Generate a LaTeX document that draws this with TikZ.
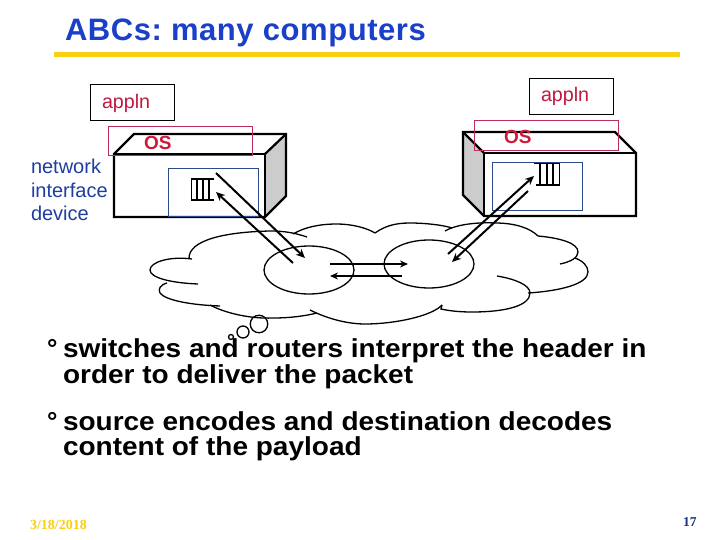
\documentclass[tikz,border=0pt]{standalone}
\usepackage{fontspec}
\setmainfont{Liberation Sans}
\newfontfamily\timesf{Liberation Serif}
\newfontfamily\bodyf[FakeStretch=1.077]{Liberation Sans}
\newfontfamily\titlef[LetterSpace=1.8]{Liberation Sans}
\usetikzlibrary{arrows.meta,shapes.geometric}
\definecolor{titleblue}{HTML}{1A3FC8}
\definecolor{textblue}{HTML}{1F3F9F}
\definecolor{crim}{HTML}{C0193F}
\definecolor{oschar}{HTML}{D0183A}
\definecolor{osbox}{HTML}{B8305A}
\definecolor{nicbox}{HTML}{2A4A8A}
\definecolor{rule}{HTML}{F9CF14}
\definecolor{navy}{HTML}{1A2F80}
\definecolor{sidegray}{HTML}{CCCCCC}
\tikzset{
  txt/.style={inner sep=0pt,outer sep=0pt,anchor=base west},
  apptxt/.style={txt,text=crim,font=\fontsize{19.7}{19.7}\selectfont},
  ostxt/.style={txt,text=oschar,font=\fontsize{19}{19}\selectfont\bfseries},
  nettxt/.style={txt,text=textblue,font=\fontsize{20}{20}\selectfont},
  bodytxt/.style={txt,text=black,font=\bodyf\fontsize{26}{26}\selectfont\bfseries},
  appbox/.style={draw=black,line width=1pt},
  osrect/.style={draw=osbox,line width=1pt},
  nicrect/.style={draw=nicbox,line width=1pt},
  hw/.style={draw=black,line width=2.2pt,line join=miter},
  queue/.style={draw=black,line width=1.6pt},
  cloud/.style={draw=black,line width=1.3pt},
  link/.style={draw=black,line width=2pt,-{Stealth[length=9pt,width=8pt]}},
  linkthin/.style={draw=black,line width=1.6pt,-{Stealth[length=8pt,width=7pt]}}
}
\begin{document}
\frenchspacing
\begin{tikzpicture}[x=1pt,y=-1pt]
\useasboundingbox (0,0) rectangle (720,540);
\fill[white] (0,0) rectangle (720,540);
% title
\node[txt,text=titleblue,font=\titlef\fontsize{31}{31}\selectfont\bfseries] (title) at (65,41) {ABCs: many computers};
\fill[rule] (54,52) rectangle (680,57);
% left computer
\fill[sidegray] (265,154) -- (286,134) -- (286,196) -- (265,217) -- cycle;
\draw[hw] (114,217) -- (114,154) -- (134,134) -- (286,134) -- (286,196) -- (265,217) -- cycle;
\draw[hw] (114,154) -- (265,154) -- (265,217);
\draw[hw] (265,154) -- (286,134);
\draw[appbox] (90,84.5) rectangle (174.5,120.5);
\node[apptxt] (app1) at (102,109) {appln};
\draw[osrect] (108.5,126.5) rectangle (252.5,156);
\node[ostxt] (os1) at (144,150) {OS};
\draw[nicrect] (168.5,168.5) rectangle (258.5,216.5);
\draw[queue] (214,179) -- (191.5,179) -- (191.5,200) -- (214,200);
\draw[queue] (197,179) -- (197,200) (203,179) -- (203,200) (209,179) -- (209,200);
\node[nettxt] (net1) at (31,174) {network};
\node[nettxt] (net2) at (31,197) {interface};
\node[nettxt] (net3) at (31,221) {device};
% right computer
\fill[sidegray] (463,132) -- (484,153) -- (484,216) -- (463,195) -- cycle;
\draw[hw] (484,216) -- (636,216) -- (636,153) -- (615,132) -- (463,132) -- (463,195) -- cycle;
\draw[hw] (484,216) -- (484,153) -- (636,153);
\draw[hw] (463,132) -- (484,153);
\draw[appbox] (529.5,78.5) rectangle (613.5,114.5);
\node[apptxt] (app2) at (541,102) {appln};
\draw[osrect] (474.5,120.5) rectangle (618.5,150.5);
\node[ostxt] (os2) at (504,144) {OS};
\draw[nicrect] (492.5,162.5) rectangle (582.5,210.5);
\draw[queue] (534,163.5) -- (559.5,163.5) -- (559.5,185) -- (536,185);
\draw[queue] (540,163.5) -- (540,185) (547,163.5) -- (547,185) (553,163.5) -- (553,185);
% cloud
\draw[cloud] (192,259) .. controls (170,256) and (150,262) .. (150,270) .. controls (150,278) and (172,283) .. (198,284);
\draw[cloud] (167,283) .. controls (160,285) and (158,289) .. (160,293) .. controls (165,300) and (190,305) .. (220,306);
\draw[cloud] (210,305) .. controls (225,313) and (250,319) .. (273,318) .. controls (290,318) and (305,316) .. (317,313);
\draw[cloud] (310,310) .. controls (330,320) and (350,324) .. (365,324) .. controls (395,324) and (432,316) .. (442,305);
\draw[cloud] (442,305) -- (441,309) .. controls (450,311) and (460,312) .. (472,312) .. controls (505,312) and (530,306) .. (530,293) .. controls (530,285) and (515,279) .. (497,276);
\draw[cloud] (528,293) .. controls (560,291) and (588,284) .. (588,272) .. controls (588,266) and (583,261) .. (575,258);
\draw[cloud] (560,264) .. controls (570,262) and (578,258) .. (578,252) .. controls (578,243) and (560,238) .. (538,236);
\draw[cloud] (538,236) .. controls (530,228) and (515,223) .. (495,223) .. controls (475,222) and (455,225) .. (445,231);
\draw[cloud] (375,233) .. controls (385,226) and (395,223) .. (410,223) .. controls (425,223) and (443,225) .. (452,228);
\draw[cloud] (293,234) .. controls (305,227) and (320,224) .. (337,224) .. controls (352,224) and (367,228) .. (375,233);
\draw[cloud] (307,237) .. controls (295,233) and (285,231) .. (270,231) .. controls (225,232) and (188,240) .. (189,259);
\node[cloud,circle,minimum size=17.5pt,inner sep=0pt] (bub1) at (259,324) {};
\node[cloud,circle,minimum size=12pt,inner sep=0pt] (bub2) at (243,332) {};
\node[cloud,circle,minimum size=5pt,inner sep=0pt] (bub3) at (231,337) {};
% switches
\node[cloud,ellipse,minimum width=90pt,minimum height=48pt,inner sep=0pt] (sw1) at (309,270) {};
\node[cloud,ellipse,minimum width=90pt,minimum height=48pt,inner sep=0pt] (sw2) at (429,264) {};
% links
\coordinate (l1a) at (216,173); \coordinate (l1b) at (305,258);
\coordinate (l2a) at (293,263); \coordinate (l2b) at (216,192);
\coordinate (r1a) at (448,254); \coordinate (r1b) at (534,176);
\coordinate (r2a) at (528,191); \coordinate (r2b) at (452,262);
\coordinate (m1a) at (330,264); \coordinate (m1b) at (408,264);
\coordinate (m2a) at (402,276); \coordinate (m2b) at (330,276);
\draw[link] (l1a) -- (l1b);
\draw[link] (l2a) -- (l2b);
\draw[link] (r1a) -- (r1b);
\draw[link] (r2a) -- (r2b);
\draw[linkthin] (m1a) -- (m1b);
\draw[linkthin] (m2a) -- (m2b);
% body
\node[txt,font=\fontsize{26}{26}\selectfont\bfseries] (b1) at (47,357) {°};
\node[bodytxt] (t1) at (63,357) {switches and routers interpret the header in};
\node[bodytxt] (t2) at (63,383) {order to deliver the packet};
\node[txt,font=\fontsize{26}{26}\selectfont\bfseries] (b2) at (47,430) {°};
\node[bodytxt] (t3) at (63,430) {source encodes and destination decodes};
\node[bodytxt] (t4) at (63,455) {content of the payload};
% footer
\node[txt,text=rule,font=\timesf\fontsize{14}{14}\selectfont\bfseries] (date) at (30,529) {3/18/2018};
\node[txt,text=navy,font=\timesf\fontsize{13.5}{13.5}\selectfont\bfseries] (page) at (683,526) {17};
\end{tikzpicture}
\end{document}
